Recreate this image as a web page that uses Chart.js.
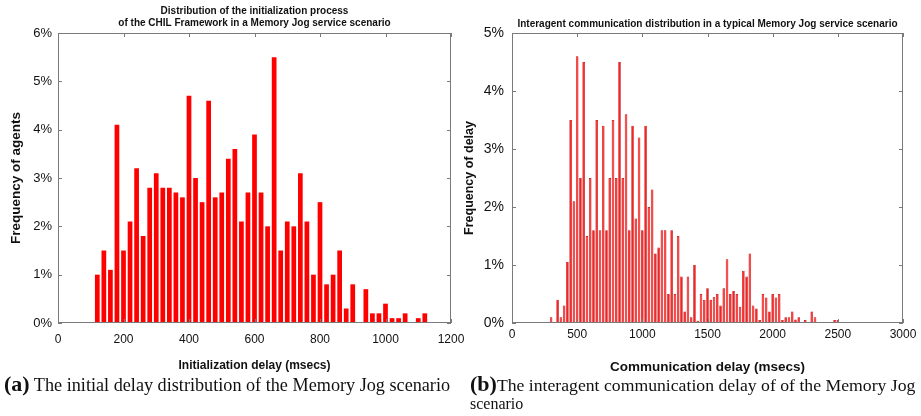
<!DOCTYPE html>
<html>
<head>
<meta charset="utf-8">
<script src="https://cdn.jsdelivr.net/npm/chart.js@4.4.1/dist/chart.umd.min.js"></script>
<style>
  html, body { margin: 0; padding: 0; background: #fff; }
  body { width: 921px; height: 416px; position: relative; overflow: hidden; }
  .cv { position: absolute; top: 0; }
  .cap { position: absolute; font-family: "Liberation Serif", "Times New Roman", serif; font-size: 18.2px; color: #111; white-space: nowrap; line-height: 18px; }
  .cap b { font-size: 22px; font-weight: bold; }
</style>
</head>
<body>
<canvas id="left" class="cv" width="470" height="380" style="left:0px"></canvas>
<canvas id="right" class="cv" width="461" height="380" style="left:460px"></canvas>
<div class="cap" id="capA" style="left:4px; top:375px;"><b>(a)</b> The initial delay distribution of the Memory Jog scenario</div>
<div class="cap" id="capB" style="left:470px; top:375px; font-size:17.7px;"><b>(b)</b>The interagent communication delay of of the Memory Jog<br><span style="font-size:16px">scenario</span></div>
<script>
// ---------- data: left chart (initialization delay, msecs -> % of agents)
const initDelays = [120,140,160,180,200,220,240,260,280,300,320,340,360,380,400,420,440,460,480,500,
  520,540,560,580,600,620,640,660,680,700,720,740,760,780,800,820,840,860,880,900,
  920,940,960,980,1000,1020,1040,1060,1080,1100,1120];
const initFreq = [1.0,1.5,1.1,4.1,1.5,2.1,3.2,1.8,2.8,3.1,2.8,2.8,2.7,2.6,4.7,3.0,2.5,4.6,2.6,2.7,
  3.4,3.6,2.1,2.7,3.9,2.7,2.0,5.5,1.5,2.1,2.0,3.1,2.1,1.0,2.5,0.8,1.0,1.5,0.3,0.8,
  0,0.7,0.2,0.2,0.4,0.1,0.1,0.2,0,0.1,0.2];
const leftXTicks = [0,200,400,600,800,1000,1200];
const leftYTicks = [0,1,2,3,4,5,6];

// ---------- data: right chart (communication delay, msecs -> % of delay)
const commDelays = [300,325,350,375,400,425,450,475,500,525,550,575,600,625,650,675,700,725,750,775,
  800,825,850,875,900,925,950,975,1000,1025,1050,1075,1100,1125,1150,1175,1200,1225,1250,1275,
  1300,1325,1350,1375,1400,1425,1450,1475,1500,1525,1550,1575,1600,1625,1650,1675,1700,1725,1750,1775,
  1800,1825,1850,1875,1900,1925,1950,1975,2000,2025,2050,2075,2100,2125,2150,2175,2200,2225,2250,2275,
  2300,2325,2350,2375,2400,2425,2450,2475,2500];
const commFreq = [0.1,0,0.4,0.1,0.3,1.05,3.5,2.1,4.6,2.5,4.5,1.5,2.5,1.6,3.5,1.6,3.4,1.6,2.5,3.5,
  2.5,4.5,2.5,3.6,1.6,3.4,1.8,3.2,1.6,3.4,2.0,2.3,1.2,1.3,1.6,1.6,0.5,1.6,0.5,1.5,
  0.8,0.2,0.8,0.1,1.0,0.04,0.5,0.4,0.6,0.4,0.45,0.5,0.3,0.6,1.1,0.5,0.55,0.5,0.28,0.9,
  0.8,1.2,0.3,0.25,0.05,0.5,0.44,0.2,0.5,0.44,0.5,0.05,0.1,0.1,0.2,0.06,0.1,0,0.05,0,
  0.2,0.1,0,0,0,0,0,0.05,0.05];
const rightXTicks = [0,500,1000,1500,2000,2500,3000];
const rightYTicks = [0,1,2,3,4,5];

// ---------- styling helpers
Chart.defaults.font.family = '"Liberation Sans", Arial, sans-serif';
Chart.defaults.color = '#111';

const matlabBox = {
  id: 'matlabBox',
  afterDatasetsDraw(chart, args, opts) {
    const {ctx, chartArea: a, scales: {x, y}} = chart;
    const L = opts.len || 4;
    ctx.save();
    ctx.strokeStyle = opts.color || '#808080';
    ctx.lineWidth = 1;
    ctx.beginPath();
    x.ticks.forEach(t => {
      const px = Math.round(x.getPixelForValue(t.value)) + 0.5;
      ctx.moveTo(px, a.top); ctx.lineTo(px, a.top + L);
      ctx.moveTo(px, a.bottom); ctx.lineTo(px, a.bottom - L);
    });
    y.ticks.forEach(t => {
      const py = Math.round(y.getPixelForValue(t.value)) + 0.5;
      ctx.moveTo(a.left, py); ctx.lineTo(a.left + L, py);
      ctx.moveTo(a.right, py); ctx.lineTo(a.right - L, py);
    });
    ctx.stroke();
    ctx.strokeRect(Math.round(a.left) + 0.5, Math.round(a.top) + 0.5,
                   Math.round(a.width) - 1, Math.round(a.height) - 1);
    ctx.restore();
  }
};

function makeChart(id, cfg) {
  const fixTicks = arr => scale => { scale.ticks = arr.map(v => ({value: v})); };
  const fitX = h => scale => { scale.height = h; scale.paddingLeft = 0; scale.paddingRight = 0; };
  const fitY = w => scale => { scale.width = w; scale.paddingTop = 0; scale.paddingBottom = 0; };
  return new Chart(document.getElementById(id), {
    type: 'bar',
    data: {
      labels: cfg.labels,
      datasets: [{
        data: cfg.values,
        backgroundColor: cfg.fill,
        borderColor: cfg.edge,
        borderWidth: cfg.edgeWidth,
        borderSkipped: 'start',
        barPercentage: cfg.barPct,
        categoryPercentage: 1.0
      }]
    },
    options: {
      responsive: false,
      animation: false,
      devicePixelRatio: 1,
      layout: { padding: { top: 0, right: cfg.padRight, left: 0, bottom: 0 } },
      plugins: {
        legend: { display: false },
        tooltip: { enabled: false },
        title: {
          display: true, fullSize: false,
          text: cfg.title,
          font: { size: cfg.titleSize, weight: 'bold' },
          color: '#111',
          padding: cfg.titlePad
        },
        matlabBox: { color: '#7a7a7a', len: 4 }
      },
      scales: {
        x: {
          type: 'linear', min: cfg.xMin, max: cfg.xMax, offset: false,
          grid: { display: false, drawTicks: false, offset: false },
          border: { display: false },
          ticks: { font: { size: 12 }, padding: cfg.xTickPad, maxRotation: 0, autoSkip: false, color: '#111',
                   callback: v => String(v) },
          afterBuildTicks: fixTicks(cfg.xTicks),
          afterFit: fitX(cfg.xAxisH),
          title: { display: true, text: cfg.xTitle, font: { size: cfg.xTitleSize, weight: 'bold' },
                   padding: { top: 0, bottom: cfg.xTitlePad }, color: '#111' }
        },
        y: {
          min: 0, max: cfg.yMax,
          grid: { display: false, drawTicks: false },
          border: { display: false },
          ticks: { font: { size: cfg.yTickSize }, padding: cfg.yTickPad, callback: v => v + '%', color: '#111' },
          afterBuildTicks: fixTicks(cfg.yTicks),
          afterFit: fitY(cfg.yAxisW),
          title: { display: true, text: cfg.yTitle, font: { size: cfg.yTitleSize, weight: 'bold' },
                   padding: { top: cfg.yTitlePad, bottom: 0 }, color: '#111' }
        }
      }
    },
    plugins: [matlabBox]
  });
}

makeChart('left', {
  labels: initDelays, values: initFreq,
  fill: '#ff0000', edge: '#e00000', edgeWidth: 0, barPct: 0.72,
  padRight: 19,
  title: ['Distribution of the initialization process', 'of the CHIL Framework in a Memory Jog service scenario'],
  titleSize: 10, titlePad: { top: 5, bottom: 4 },
  xMin: 0, xMax: 1200, xTicks: leftXTicks, xTickPad: 9, xAxisH: 57,
  xTitle: 'Initialization delay (msecs)', xTitleSize: 12, xTitlePad: 7,
  yMax: 6, yTicks: leftYTicks, yTickSize: 13, yTickPad: 6, yAxisW: 58,
  yTitle: 'Frequency of agents', yTitleSize: 13.5, yTitlePad: 8
});

makeChart('right', {
  labels: commDelays, values: commFreq,
  fill: 'rgb(255,30,30)', edge: 'rgb(190,10,10)', edgeWidth: 0.7, barPct: 0.8,
  padRight: 18,
  title: 'Interagent communication distribution in a typical Memory Jog service scenario',
  titleSize: 10, titlePad: { top: 18, bottom: 3 },
  xMin: 0, xMax: 3000, xTicks: rightXTicks, xTickPad: 4, xAxisH: 57,
  xTitle: 'Communication delay (msecs)', xTitleSize: 13.5, xTitlePad: 5,
  yMax: 5, yTicks: rightYTicks, yTickSize: 14, yTickPad: 8, yAxisW: 52,
  yTitle: 'Frequency of delay', yTitleSize: 12.5, yTitlePad: 2.5
});
</script>
</body>
</html>
